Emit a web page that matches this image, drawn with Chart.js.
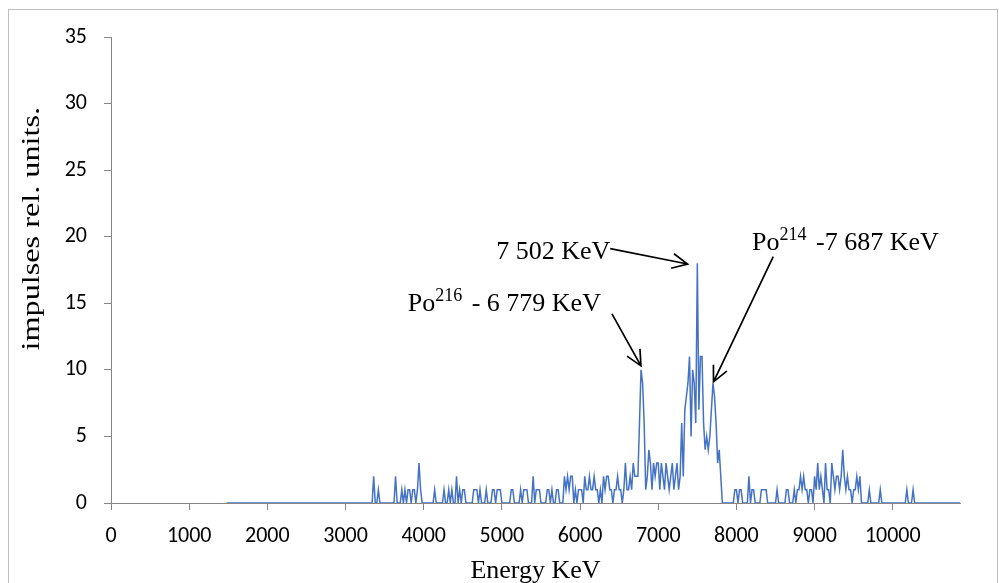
<!DOCTYPE html>
<html>
<head>
<meta charset="utf-8">
<script src="https://cdn.jsdelivr.net/npm/chart.js@4/dist/chart.umd.min.js"></script>
<style>
  html, body { margin: 0; padding: 0; background: #fff; }
  #wrap { position: relative; width: 999px; height: 583px; }
</style>
</head>
<body>
<div id="wrap"><canvas id="spectrum" width="999" height="583"></canvas></div>
<script>
// spectrum channels: first channel energy and channel width, KeV
const energyStart = 1480;
const channelWidth = 20;

// counts per channel, one row = 25 channels (500 KeV)
const counts = [
  0,0,0,0,0,0,0,0,0,0,0,0,0,0,0,0,0,0,0,0,0,0,0,0,0,   // 1480
  0,0,0,0,0,0,0,0,0,0,0,0,0,0,0,0,0,0,0,0,0,0,0,0,0,   // 1980
  0,0,0,0,0,0,0,0,0,0,0,0,0,0,0,0,0,0,0,0,0,0,0,0,0,   // 2480
  0,0,0,0,0,0,0,0,0,0,0,0,0,0,0,0,0,0,0,2,0,0,1,0,0,   // 2980
  0,0,0,0,0,0,0,0,2,0,0,0,1,0,1,0,1,1,0,1,1,0,1,3,1,   // 3480
  0,0,0,0,0,0,0,0,1,0,0,0,0,0,1,0,0,1,0,1,0,0,2,0,1,   // 3980
  0,1,1,0,0,0,0,0,1,1,1,0,1,0,0,0,1,0,0,0,1,1,0,1,1,   // 4480
  1,0,0,0,0,0,0,1,1,0,0,0,0,1,0,1,1,1,0,0,0,2,0,1,1,   // 4980
  1,0,0,0,0,1,1,0,1,0,0,1,1,0,0,0,2,1,2,1,2,2,0,1,0,   // 5480
  1,1,1,0,2,1,1,2,1,1,2,1,1,0,1,0,2,1,2,2,1,1,0,1,1,   // 5980
  2,1,1,0,1,3,1,1,2,1,3,2,2,2,6,10,9,6,1,2,4,3,1,3,2,  // 6480
  3,3,1,3,2,1,3,2,1,2,3,1,2,3,1,2,6,2,7,8,9,11,5,10,9, // 6980
  6,18,7,11,11,6,4,5,4,5,7,9,8,6,3,4,2,0,0,0,0,0,0,0,0,// 7480
  1,1,0,1,1,0,0,0,0,2,0,1,1,0,0,0,0,1,1,1,1,0,0,0,0,   // 7980
  0,0,1,0,0,0,0,0,1,1,0,0,0,1,0,1,1,2,1,2,1,1,0,1,1,   // 8480
  0,2,1,3,1,2,1,0,3,1,1,0,3,2,1,2,2,1,2,4,2,1,2,1,1,   // 8980
  0,1,1,2,1,2,0,0,0,0,0,1,0,0,0,0,0,0,1,0,0,0,0,0,0,   // 9480
  0,0,0,0,0,0,0,0,0,0,1,0,0,0,1,0,0,0,0,0,0,0,0,0,0,   // 9980
  0,0,0,0,0,0,0,0,0,0,0,0,0,0,0,0,0,0,0,0            // 10480
];

const xMin = 0;
const xMax = 10860;
const xTicks = [0, 1000, 2000, 3000, 4000, 5000, 6000, 7000, 8000, 9000, 10000];
const yMin = 0;
const yMax = 35;
const yTicks = [0, 5, 10, 15, 20, 25, 30, 35];

const xTitle = 'Energy KeV';
const yTitle = 'impulses rel. units.';

// peak labels: text pieces (sup = superscript), arrow tail/tip and text anchor in data units
const notes = [
  { parts: [{ t: '7 502 KeV' }], anchor: [6386, 18.36], align: 'right', tail: [6386, 19.1], tip: [7375, 17.95] },
  { parts: [{ t: 'Po' }, { t: '216', sup: true }, { t: ' - 6 779 KeV' }], anchor: [6267, 14.4], align: 'right', tail: [6408, 14.2], tip: [6779, 10.3] },
  { parts: [{ t: 'Po' }, { t: '214', sup: true }, { t: ' -7 687 KeV' }], anchor: [8200, 19.0], align: 'left', tail: [8471, 18.5], tip: [7707, 9.1] }
];

const points = counts.map((c, i) => ({ x: energyStart + i * channelWidth, y: c }));

const serif = '"Liberation Serif", "Times New Roman", serif';
const sans = 'Carlito, Lato, sans-serif';

const frame = {
  id: 'frame',
  beforeDraw(chart) {
    const ctx = chart.ctx;
    ctx.save();
    ctx.fillStyle = '#fff';
    ctx.fillRect(0, 0, chart.width, chart.height);
    ctx.strokeStyle = '#bfbfbf';
    ctx.lineWidth = 1;
    ctx.strokeRect(8.5, 9.5, 989, 600);
    ctx.restore();
  }
};

const yTitlePlugin = {
  id: 'yTitle',
  afterDraw(chart) {
    const ctx = chart.ctx;
    const y = chart.scales.y;
    ctx.save();
    ctx.translate(32, y.getPixelForValue(20.6));
    ctx.rotate(-Math.PI / 2);
    ctx.scale(1.24, 1);
    ctx.font = '26px ' + serif;
    ctx.fillStyle = '#000';
    ctx.textAlign = 'center';
    ctx.textBaseline = 'middle';
    ctx.fillText(yTitle, 0, 0);
    ctx.restore();
  }
};

function drawArrow(ctx, x1, y1, x2, y2) {
  const a = Math.atan2(y2 - y1, x2 - x1);
  const len = 17, spread = 0.45;
  ctx.beginPath();
  ctx.moveTo(x1, y1);
  ctx.lineTo(x2, y2);
  ctx.moveTo(x2 - len * Math.cos(a - spread), y2 - len * Math.sin(a - spread));
  ctx.lineTo(x2, y2);
  ctx.lineTo(x2 - len * Math.cos(a + spread), y2 - len * Math.sin(a + spread));
  ctx.stroke();
}

const notesPlugin = {
  id: 'notes',
  afterDatasetsDraw(chart) {
    const { ctx, scales: { x, y } } = chart;
    const big = '26px ' + serif, small = '18px ' + serif;
    ctx.save();
    ctx.strokeStyle = '#000';
    ctx.fillStyle = '#000';
    ctx.lineWidth = 1.7;
    ctx.textBaseline = 'alphabetic';
    ctx.textAlign = 'left';
    notes.forEach(n => {
      drawArrow(ctx, x.getPixelForValue(n.tail[0]), y.getPixelForValue(n.tail[1]),
        x.getPixelForValue(n.tip[0]), y.getPixelForValue(n.tip[1]));
      let total = 0;
      n.parts.forEach(p => { ctx.font = p.sup ? small : big; total += ctx.measureText(p.t).width + (p.sup ? 3 : 0); });
      let px = x.getPixelForValue(n.anchor[0]);
      const py = y.getPixelForValue(n.anchor[1]);
      if (n.align === 'right') px -= total;
      n.parts.forEach(p => {
        ctx.font = p.sup ? small : big;
        ctx.fillText(p.t, px, p.sup ? py - 10 : py);
        px += ctx.measureText(p.t).width + (p.sup ? 3 : 0);
      });
    });
    ctx.restore();
  }
};

new Chart(document.getElementById('spectrum'), {
  type: 'line',
  data: {
    datasets: [{
      data: points,
      borderColor: '#4472c4',
      borderWidth: 1.5,
      pointRadius: 0,
      tension: 0,
      fill: false
    }]
  },
  plugins: [frame, yTitlePlugin, notesPlugin],
  options: {
    responsive: false,
    animation: false,
    events: [],
    layout: { padding: { left: 0, right: 39, top: 37, bottom: 0 } },
    plugins: { legend: { display: false }, tooltip: { enabled: false } },
    scales: {
      x: {
        type: 'linear',
        min: xMin,
        max: xMax,
        afterFit: s => { s.height = 80; },
        afterBuildTicks: s => { s.ticks = xTicks.map(v => ({ value: v })); },
        ticks: { autoSkip: false, color: '#000', padding: 13, maxRotation: 0, font: { family: sans, size: 22 }, callback: v => String(v) },
        grid: { drawOnChartArea: false, drawTicks: true, tickLength: 7, color: '#868686' },
        border: { color: '#868686', width: 1 },
        title: { display: true, text: xTitle, color: '#000', padding: 0, font: { family: serif, size: 26, lineHeight: 0.9 } }
      },
      y: {
        min: yMin,
        max: yMax,
        afterFit: s => { s.width = 111; },
        afterBuildTicks: s => { s.ticks = yTicks.map(v => ({ value: v })); },
        ticks: { color: '#000', padding: 17, font: { family: sans, size: 22 }, callback: v => String(v) },
        grid: { drawOnChartArea: false, drawTicks: true, tickLength: 7, color: '#868686' },
        border: { color: '#868686', width: 1 }
      }
    }
  }
});
</script>
</body>
</html>
